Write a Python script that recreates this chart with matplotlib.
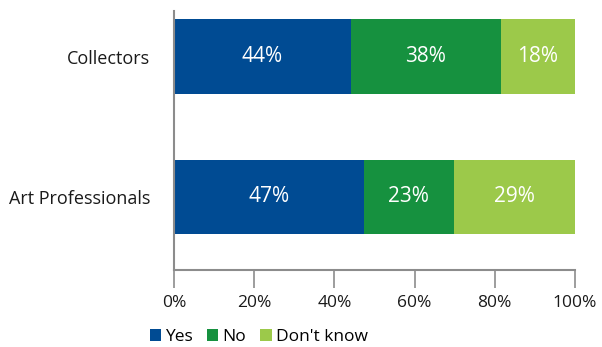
import matplotlib
matplotlib.use("Agg")
import matplotlib.pyplot as plt
from matplotlib.patches import Patch

categories = ["Art Professionals", "Collectors"]
series = ["Yes", "No", "Don't know"]
yes_vals = [47.4, 44.1]
no_vals = [22.4, 37.4]
dk_vals = [30.2, 18.5]
yes_labels = ["47%", "44%"]
no_labels = ["23%", "38%"]
dk_labels = ["29%", "18%"]
xticks = [0, 20, 40, 60, 80, 100]
xtick_labels = ["0%", "20%", "40%", "60%", "80%", "100%"]
colors = ["#004B93", "#16913F", "#9CC94A"]

plt.rcParams['font.family'] = ['Open Sans', 'DejaVu Sans']

fig = plt.figure(figsize=(6.02, 3.47), dpi=100)
ax = fig.add_axes([0.289, 0.222, 0.666, 0.746])

ypos = list(range(len(categories)))
h = 0.53
left = [0.0] * len(categories)
for vals, labs, c in zip([yes_vals, no_vals, dk_vals], [yes_labels, no_labels, dk_labels], colors):
    bars = ax.barh(ypos, vals, left=left, height=h, color=c)
    for b, lab in zip(bars, labs):
        ax.text(b.get_x() + b.get_width() / 2, b.get_y() + b.get_height() / 2, lab,
                ha='center', va='center', color='white', fontsize=15)
    left = [l + v for l, v in zip(left, vals)]

ax.set_xlim(0, 100)
ax.set_ylim(-0.52, 1.324)
ax.set_yticks(ypos)
ax.set_yticklabels(categories, fontsize=13, color='#1a1a1a')
ax.set_xticks(xticks)
ax.set_xticklabels(xtick_labels, fontsize=12.5, color='#1a1a1a')
ax.tick_params(axis='y', length=0, pad=17)
ax.tick_params(axis='x', length=13, width=1.2, color='#8c8c8c', pad=5)
for s in ['top', 'right']:
    ax.spines[s].set_visible(False)
for s in ['left', 'bottom']:
    ax.spines[s].set_color('#8c8c8c')
    ax.spines[s].set_linewidth(1.5)

handles = [Patch(facecolor=c, label=s) for c, s in zip(colors, series)]
fig.legend(handles=handles, loc='center', bbox_to_anchor=(0.43, 0.029), ncol=3, frameon=False,
           fontsize=12.5, handlelength=0.65, handleheight=0.65, handletextpad=0.25, columnspacing=0.8)

fig.savefig("out.png", dpi=100)
